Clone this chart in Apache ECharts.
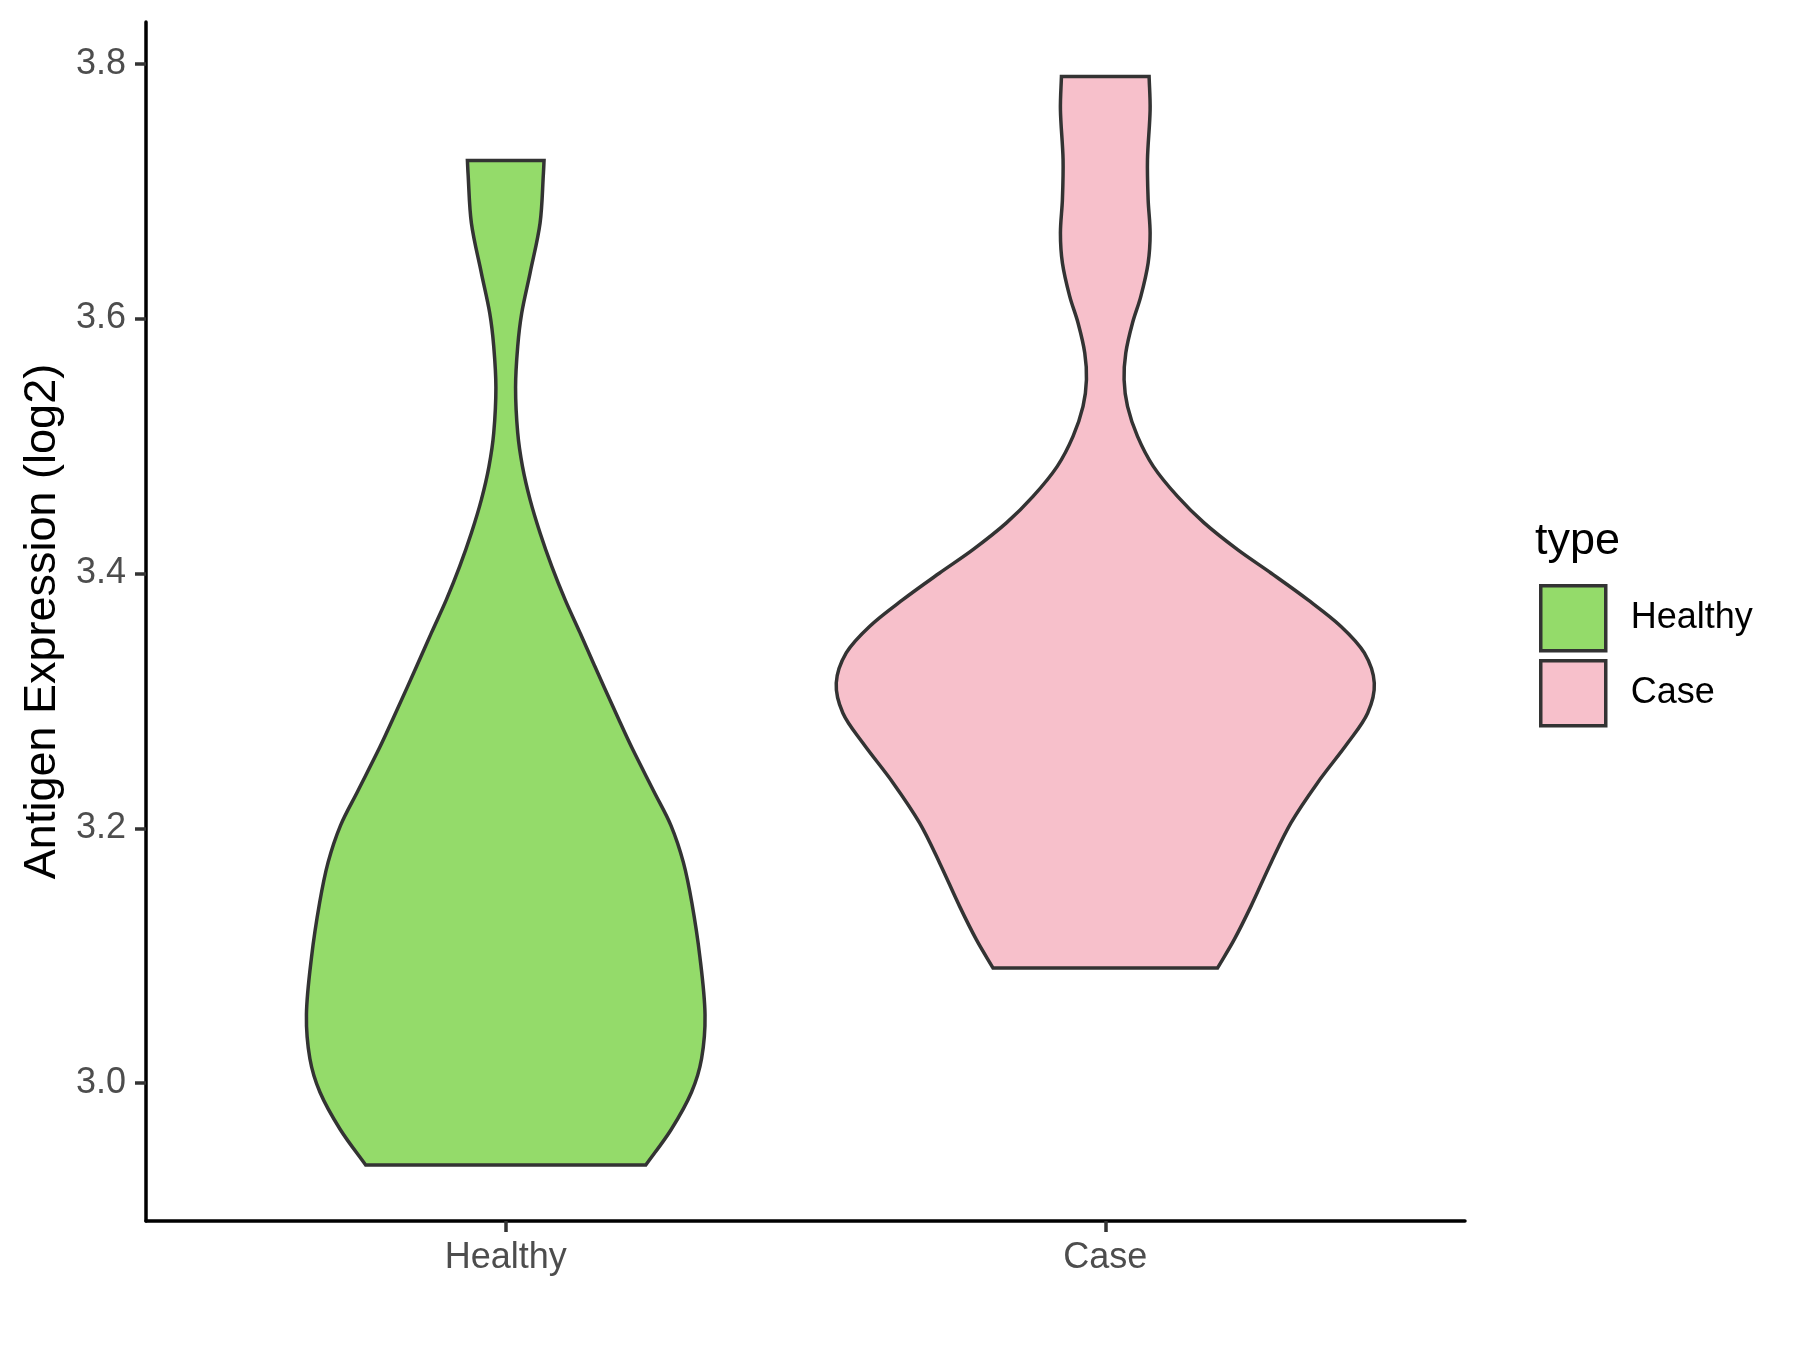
<!DOCTYPE html>
<html>
<head>
<meta charset="utf-8">
<script src="https://cdn.jsdelivr.net/npm/echarts@6/dist/echarts.min.js"></script>
<style>
  html, body { margin: 0; padding: 0; background: #fff; }
  #chart { width: 1800px; height: 1350px; }
</style>
</head>
<body>
<div id="chart"></div>
<script>
// groups on the x axis (positions 1 and 2)
const categories = ['Healthy', 'Case']
const fillColors = ['#94DB6A', '#F7C0CB']

// violin outlines: value, half width (in category units)
const healthyY = [3.7241, 3.7142, 3.6750, 3.6357, 3.6044, 3.5782, 3.5458, 3.5102, 3.4840, 3.4579,
  3.4317, 3.4055, 3.3794, 3.3533, 3.3271, 3.2853, 3.2633, 3.2289, 3.2023, 3.1732, 3.1413, 3.0989,
  3.0538, 3.0193, 2.9928, 2.9636, 2.9357]
const healthyWidth = [0.0639, 0.0629, 0.0573, 0.0406, 0.0267, 0.0200, 0.0164, 0.0200, 0.0279, 0.0406,
  0.0573, 0.0768, 0.0990, 0.1240, 0.1486, 0.1886, 0.2103, 0.2471, 0.2755, 0.2963, 0.3105, 0.3239,
  0.3324, 0.3267, 0.3098, 0.2760, 0.2336]

const caseY = [3.7900, 3.7639, 3.7247, 3.6933, 3.6671, 3.6436, 3.6174, 3.5965, 3.5730, 3.5520,
  3.5311, 3.5075, 3.4840, 3.4604, 3.4396, 3.4186, 3.4003, 3.3794, 3.3584, 3.3376, 3.3140, 3.2905,
  3.2669, 3.2356, 3.2042, 3.1728, 3.1387, 3.1126, 3.0904]
const caseWidth = [0.0731, 0.0748, 0.0704, 0.0715, 0.0748, 0.0715, 0.0593, 0.0454, 0.0342, 0.0314,
  0.0371, 0.0538, 0.0801, 0.1205, 0.1649, 0.2207, 0.2763, 0.3376, 0.3932, 0.4321, 0.4487, 0.4377,
  0.4043, 0.3539, 0.3097, 0.2763, 0.2429, 0.2150, 0.1873]

const yTicks = [3.0, 3.2, 3.4, 3.6, 3.8]
const yMin = 2.8918
const yMax = 3.8327

const profiles = [
  { y: healthyY, w: healthyWidth },
  { y: caseY, w: caseWidth }
]

const font = '"Liberation Sans", Arial, Helvetica, sans-serif'

function dist(a, b) {
  return Math.hypot(b[0] - a[0], b[1] - a[1])
}

// smooth curve through the points, tangents scaled by chord length
function curveThrough(pts) {
  const n = pts.length
  const tan = pts.map((p, i) => {
    const a = pts[Math.max(i - 1, 0)]
    const b = pts[Math.min(i + 1, n - 1)]
    const len = dist(a, p) + dist(p, b)
    return len ? [(b[0] - a[0]) / len, (b[1] - a[1]) / len] : [0, 0]
  })
  let d = ''
  for (let i = 0; i < n - 1; i++) {
    const p1 = pts[i]
    const p2 = pts[i + 1]
    const h = dist(p1, p2) / 3
    const c1x = p1[0] + tan[i][0] * h
    const c1y = p1[1] + tan[i][1] * h
    const c2x = p2[0] - tan[i + 1][0] * h
    const c2y = p2[1] - tan[i + 1][1] * h
    d += ' C' + c1x + ' ' + c1y + ' ' + c2x + ' ' + c2y + ' ' + p2[0] + ' ' + p2[1]
  }
  return d
}

function renderViolin(params, api) {
  const pos = api.value(0)
  const prof = profiles[params.seriesIndex]
  const left = prof.y.map((v, i) => api.coord([pos - prof.w[i], v]))
  const right = prof.y.map((v, i) => api.coord([pos + prof.w[i], v])).reverse()
  let d = 'M' + left[0][0] + ' ' + left[0][1]
  d += curveThrough(left)
  d += ' L' + right[0][0] + ' ' + right[0][1]
  d += curveThrough(right)
  d += ' Z'
  return {
    type: 'path',
    shape: { pathData: d },
    style: {
      fill: fillColors[params.seriesIndex],
      stroke: '#333333',
      lineWidth: 3.5,
      lineJoin: 'miter'
    }
  }
}

const myChart = echarts.init(document.getElementById('chart'))

const option = {
  animation: false,
  backgroundColor: '#ffffff',
  grid: {
    left: 146,
    right: 335,
    top: 22,
    bottom: 129
  },
  title: {
    text: 'type',
    left: 1535,
    top: 519,
    padding: 0,
    textStyle: {
      fontFamily: font,
      fontSize: 45,
      fontWeight: 'normal',
      color: '#000000'
    }
  },
  legend: {
    orient: 'vertical',
    left: 1539,
    top: 584,
    padding: 0,
    itemWidth: 65,
    itemHeight: 65,
    itemGap: 6.5,
    icon: 'rect',
    selectedMode: false,
    itemStyle: {
      borderColor: '#333333',
      borderWidth: 3.5
    },
    textStyle: {
      fontFamily: font,
      fontSize: 36,
      color: '#000000',
      padding: [0, 0, 0, 20]
    },
    data: categories
  },
  xAxis: {
    type: 'value',
    min: 0.4,
    max: 2.6,
    splitLine: { show: false },
    axisLine: { lineStyle: { color: '#000000', width: 3.5 } },
    axisTick: {
      customValues: [1, 2],
      length: 11,
      lineStyle: { color: '#333333', width: 3.5 }
    },
    axisLabel: {
      customValues: [1, 2],
      margin: 19,
      formatter: v => categories[Math.round(v) - 1],
      fontFamily: font,
      fontSize: 36,
      color: '#4D4D4D'
    }
  },
  yAxis: {
    type: 'value',
    min: yMin,
    max: yMax,
    name: 'Antigen Expression (log2)',
    nameLocation: 'middle',
    nameGap: 78,
    nameTextStyle: {
      fontFamily: font,
      fontSize: 45,
      color: '#000000'
    },
    splitLine: { show: false },
    axisLine: { show: true, lineStyle: { color: '#000000', width: 3.5 } },
    axisTick: {
      show: true,
      customValues: yTicks,
      length: 11,
      lineStyle: { color: '#333333', width: 3.5 }
    },
    axisLabel: {
      customValues: yTicks,
      margin: 20,
      formatter: v => v.toFixed(1),
      fontFamily: font,
      fontSize: 36,
      color: '#4D4D4D'
    }
  },
  series: categories.map((name, i) => ({
    name: name,
    type: 'custom',
    renderItem: renderViolin,
    itemStyle: { color: fillColors[i] },
    data: [[i + 1]],
    clip: false
  }))
}

myChart.setOption(option)

window.addEventListener('resize', () => { myChart.resize() })
</script>
</body>
</html>
